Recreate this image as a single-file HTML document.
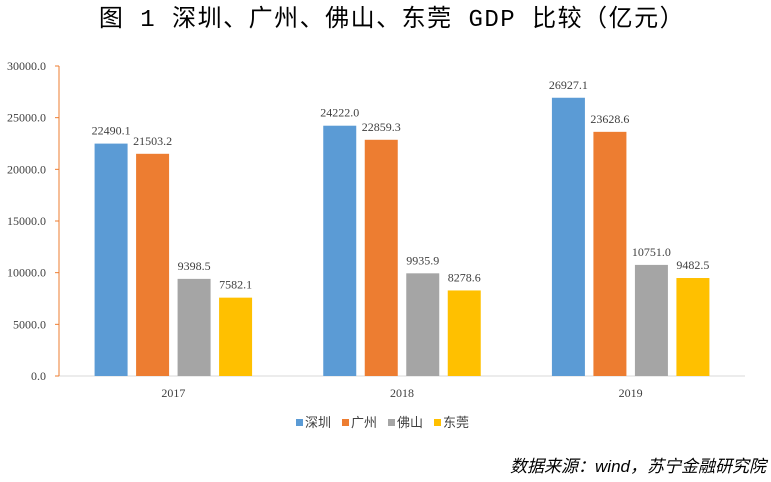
<!DOCTYPE html>
<html><head><meta charset="utf-8"><style>
body{margin:0;background:#fff;width:771px;height:477px;overflow:hidden;font-family:"Liberation Serif","Noto Serif CJK SC",serif}
</style></head><body>
<svg width="771" height="477" id="c">
<text x="392" y="26" text-anchor="middle" font-size="24" letter-spacing="1.5" font-family="'Liberation Mono','Noto Sans CJK SC',monospace" fill="#000">图 1  深圳、广州、佛山、东莞 GDP 比较（亿元）</text>
<text x="766" y="472" text-anchor="end" font-size="17" font-style="italic" font-family="'Liberation Sans','Noto Sans CJK SC',sans-serif" fill="#000">数据来源：wind，苏宁金融研究院</text>
</svg>
<script>
const categories=["2017","2018","2019"];
const seriesNames=["深圳","广州","佛山","东莞"];
const colors=["#5b9bd5","#ed7d31","#a5a5a5","#ffc000"];
const shenzhen=[22490.1,24222.0,26927.1];
const guangzhou=[21503.2,22859.3,23628.6];
const foshan=[9398.5,9935.9,10751.0];
const dongguan=[7582.1,8278.6,9482.5];
const yTicks=[0,5000,10000,15000,20000,25000,30000];
const series=[shenzhen,guangzhou,foshan,dongguan];
const svg=document.getElementById('c');
const NS="http://www.w3.org/2000/svg";
const x0=59,x1=745,y0=376,y1=66,yMax=30000;
const y=v=>y0-(v/yMax)*(y0-y1);
const catW=(x1-x0)/categories.length;
const bw=33,step=41.5;
function mk(t,a){const e=document.createElementNS(NS,t);for(const k in a)e.setAttribute(k,a[k]);svg.appendChild(e);return e;}
let e=mk('line',{x1:x0,y1:y0,x2:x1,y2:y0,stroke:'#d9d9d9','stroke-width':1});


e=mk('line',{x1:x0,y1:y1,x2:x0,y2:y0,stroke:'#ed7d31','stroke-width':1});


yTicks.forEach(t=>{
 let l=mk('line',{x1:x0-4,y1:y(t),x2:x0,y2:y(t),stroke:'#ed7d31'});
 
 
 let tx=mk('text',{x:46,y:y(t)+4,'text-anchor':'end','font-size':12,fill:'#404040'});
 tx.textContent=t.toFixed(1);
 
 
});
categories.forEach((c,i)=>{
 const cx=x0+catW*(i+0.5);
 series.forEach((s,j)=>{
  const bx=cx-1.5*step+j*step-bw/2;
  let r=mk('rect',{x:bx,y:y(s[i]),width:bw,height:y0-y(s[i]),fill:colors[j]});
  
  
  let t=mk('text',{x:bx+bw/2,y:y(s[i])-9,'text-anchor':'middle','font-size':12,fill:'#404040'});
  t.textContent=s[i].toFixed(1);
  
  
 });
 let t=mk('text',{x:cx,y:397,'text-anchor':'middle','font-size':12,fill:'#404040'});
 t.textContent=c;
 
 
});
const lx=[296,342,388,434];
seriesNames.forEach((n,j)=>{
 let r=mk('rect',{x:lx[j],y:419,width:7,height:7,fill:colors[j]});
 
 
 let t=mk('text',{x:lx[j]+9,y:427,'font-size':13,fill:'#404040','font-family':"'Liberation Sans','Noto Sans CJK SC',sans-serif"});
 t.textContent=n;
 
 
});
</script>
</body></html>
